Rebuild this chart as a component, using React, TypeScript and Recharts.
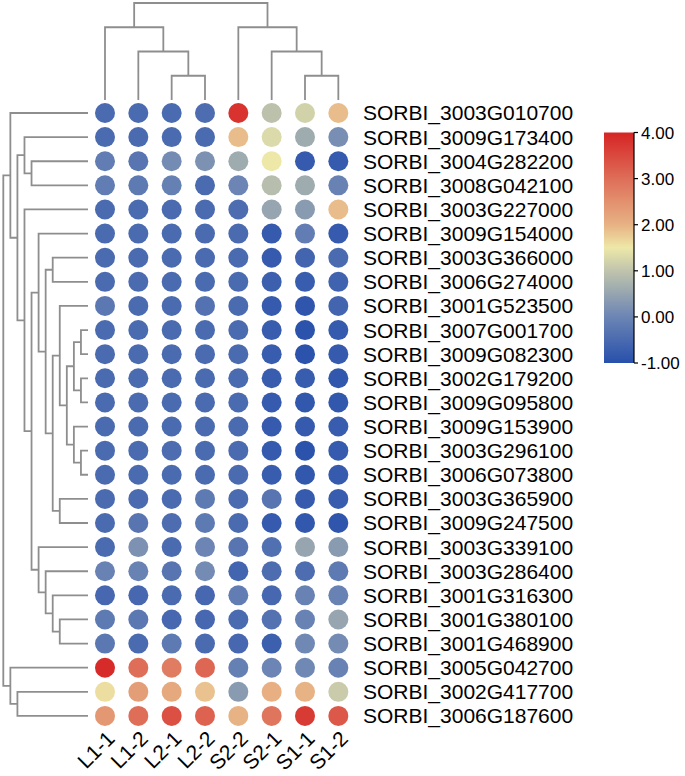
import React from 'react';
import { ScatterChart, Scatter, XAxis, YAxis, BarChart, Bar } from 'recharts';

// ---------- data ----------
const samples = ['L1-1', 'L1-2', 'L2-1', 'L2-2', 'S2-2', 'S2-1', 'S1-1', 'S1-2'];

const genes = [
  'SORBI_3003G010700', 'SORBI_3009G173400', 'SORBI_3004G282200', 'SORBI_3008G042100',
  'SORBI_3003G227000', 'SORBI_3009G154000', 'SORBI_3003G366000', 'SORBI_3006G274000',
  'SORBI_3001G523500', 'SORBI_3007G001700', 'SORBI_3009G082300', 'SORBI_3002G179200',
  'SORBI_3009G095800', 'SORBI_3009G153900', 'SORBI_3003G296100', 'SORBI_3006G073800',
  'SORBI_3003G365900', 'SORBI_3009G247500', 'SORBI_3003G339100', 'SORBI_3003G286400',
  'SORBI_3001G316300', 'SORBI_3001G380100', 'SORBI_3001G468900', 'SORBI_3005G042700',
  'SORBI_3002G417700', 'SORBI_3006G187600',
];

const L1_1 = [-0.5, -0.5, -0.15, -0.15, -0.5, -0.5, -0.5, -0.5, -0.25, -0.5, -0.5, -0.5, -0.5, -0.5, -0.5, -0.5, -0.5, -0.5, -0.5, -0.05, -0.55, -0.2, -0.25, 3.9, 1.6, 2.4];
const L1_2 = [-0.5, -0.5, -0.3, -0.2, -0.5, -0.5, -0.5, -0.5, -0.5, -0.5, -0.5, -0.5, -0.5, -0.5, -0.5, -0.5, -0.5, -0.3, 0.2, -0.05, -0.55, -0.25, -0.5, 3.0, 2.3, 3.0];
const L2_1 = [-0.5, -0.5, 0.1, -0.1, -0.5, -0.5, -0.5, -0.5, -0.5, -0.5, -0.5, -0.5, -0.5, -0.5, -0.45, -0.5, -0.5, -0.45, -0.5, -0.3, -0.5, -0.55, -0.2, 2.8, 2.15, 3.4];
const L2_2 = [-0.45, -0.5, 0.2, -0.5, -0.5, -0.5, -0.5, -0.5, -0.35, -0.5, -0.5, -0.5, -0.5, -0.5, -0.5, -0.5, -0.2, -0.2, 0.0, 0.1, -0.55, -0.55, -0.5, 3.1, 1.85, 3.15];
const S2_2 = [3.8, 1.9, 0.6, 0.0, -0.45, -0.5, -0.5, -0.5, -0.5, -0.5, -0.5, -0.5, -0.5, -0.5, -0.5, -0.5, -0.5, -0.5, -0.3, -0.6, -0.15, -0.5, -0.55, -0.1, 0.35, 2.0];
const S2_1 = [0.95, 1.3, 1.5, 0.9, 0.5, -0.8, -0.8, -0.7, -0.8, -0.75, -0.75, -0.75, -0.8, -0.8, -0.8, -0.75, -0.3, -0.8, -0.4, -0.45, -0.55, -0.35, -0.7, 0.0, 2.05, 2.9];
const S1_1 = [1.2, 0.6, -0.8, 0.6, 0.35, -0.15, -0.6, -0.75, -0.9, -0.95, -0.95, -0.75, -0.85, -0.8, -0.95, -0.85, -0.8, -0.85, 0.5, -0.45, -0.05, -0.05, 0.05, 0.05, 2.0, 3.7];
const S1_2 = [1.9, 0.15, -0.8, -0.05, 1.9, -0.8, -0.5, -0.65, -0.6, -0.8, -0.8, -0.85, -0.85, -0.75, -0.8, -0.8, -0.75, -0.9, 0.35, -0.2, -0.05, 0.5, 0.1, -0.05, 1.1, 3.3];

const sampleValues = [L1_1, L1_2, L2_1, L2_2, S2_2, S2_1, S1_1, S1_2];

// dendrogram merges: [childA, childB, height]; leaves 0..N-1, merged nodes N+k
const rowMerges: [number, number, number][] = [
  [9, 10, 1], [11, 12, 1], [14, 15, 1], [26, 27, 2], [13, 28, 2], [29, 30, 3],
  [8, 31, 4], [16, 17, 4], [32, 33, 5], [6, 7, 5], [35, 34, 6], [5, 36, 7],
  [21, 22, 4], [20, 38, 5], [19, 39, 6], [18, 40, 7], [37, 41, 8], [4, 42, 9],
  [2, 3, 8], [1, 44, 9], [45, 43, 10], [0, 46, 11], [24, 25, 10], [23, 48, 11],
  [47, 49, 12],
];
const colMerges: [number, number, number][] = [
  [2, 3, 1], [6, 7, 1], [1, 8, 2], [5, 9, 2], [0, 10, 3], [4, 11, 3], [12, 13, 4],
];

const scaleTicks = [-1, 0, 1, 2, 3, 4];
const colorStops: [number, [number, number, number]][] = [
  [-1, [40, 80, 172]],
  [0, [108, 133, 180]],
  [1, [192, 196, 172]],
  [1.5, [237, 232, 168]],
  [2, [231, 178, 132]],
  [3, [222, 110, 88]],
  [4, [214, 36, 36]],
];

// ---------- helpers ----------
function colorOf(v: number) {
  if (v <= colorStops[0][0]) return `rgb(${colorStops[0][1].join(',')})`;
  for (let i = 1; i < colorStops.length; i++) {
    const [v1, c1] = colorStops[i];
    const [v0, c0] = colorStops[i - 1];
    if (v <= v1) {
      const t = (v - v0) / (v1 - v0);
      const c = c0.map((a, k) => Math.round(a + (c1[k] - a) * t));
      return `rgb(${c.join(',')})`;
    }
  }
  return `rgb(${colorStops[colorStops.length - 1][1].join(',')})`;
}

function buildLinks(n: number, merges: [number, number, number][]) {
  const pos: number[] = [];
  const hgt: number[] = [];
  for (let i = 0; i < n; i++) { pos[i] = i; hgt[i] = 0; }
  return merges.map(([a, b, h], k) => {
    const id = n + k;
    pos[id] = (pos[a] + pos[b]) / 2;
    hgt[id] = h;
    return [
      { p: pos[a], h: hgt[a] },
      { p: pos[a], h },
      { p: pos[b], h },
      { p: pos[b], h: hgt[b] },
    ];
  });
}

const rowLinks = buildLinks(genes.length, rowMerges).map((l) => l.map((q) => ({ x: q.h, y: q.p })));
const colLinks = buildLinks(samples.length, colMerges).map((l) => l.map((q) => ({ x: q.p, y: q.h })));

const cells: { x: number; y: number; v: number }[] = [];
sampleValues.forEach((col, c) => col.forEach((v, r) => cells.push({ x: c, y: r, v })));

const FONT = 'Liberation Sans, Arial, sans-serif';
const W = 685;
const H = 776;
const LINE = '#8e8e8e';

const noShape = () => <g />;

const SampleTick = (props: any) => {
  const { x, y, payload } = props;
  const ax = x + 11;
  const ay = y + 12;
  return (
    <text x={ax} y={ay} transform={`rotate(-45, ${ax}, ${ay})`} textAnchor="end" fontSize={21} fontFamily={FONT} fill="#000">
      {samples[payload.value]}
    </text>
  );
};

const abs: React.CSSProperties = { position: 'absolute', left: 0, top: 0 };

// gradient stops ordered from top (max) to bottom (min)
const gradStops = [...colorStops].reverse();

export default function App() {
  const plotTop = 100.94;
  const plotBottom = 728;
  const plotLeft = 88.33;
  const plotRight = 355;
  return (
    <div style={{ position: 'absolute', left: 0, top: 0, width: W, height: H, background: '#fff' }}>
      <svg width={1} height={1} style={{ position: 'absolute', left: 0, top: 0 }}>
        <defs>
          <linearGradient id="cbGrad" x1="0" y1="0" x2="0" y2="1">
            {gradStops.map(([v, c]) => (
              <stop key={v} offset={`${((4 - v) / 5) * 100}%`} stopColor={`rgb(${c.join(',')})`} />
            ))}
          </linearGradient>
        </defs>
      </svg>

      {/* column dendrogram */}
      <div style={abs}>
        <ScatterChart width={W} height={H} margin={{ top: 3, bottom: H - 100, left: plotLeft, right: W - plotRight }}>
          <XAxis type="number" dataKey="x" domain={[-0.5, 7.5]} hide />
          <YAxis type="number" dataKey="y" domain={[0, 4]} hide />
          {colLinks.map((pts, i) => (
            <Scatter key={i} data={pts} fill={LINE} line={{ stroke: LINE, strokeWidth: 1.8 }} shape={noShape} isAnimationActive={false} />
          ))}
        </ScatterChart>
      </div>

      {/* row dendrogram */}
      <div style={abs}>
        <ScatterChart width={W} height={H} margin={{ top: plotTop, bottom: H - plotBottom, left: 3.3, right: W - 88 }}>
          <XAxis type="number" dataKey="x" domain={[0, 12]} reversed hide />
          <YAxis type="number" dataKey="y" domain={[-0.5, 25.5]} reversed hide />
          {rowLinks.map((pts, i) => (
            <Scatter key={i} data={pts} fill={LINE} line={{ stroke: LINE, strokeWidth: 1.8 }} shape={noShape} isAnimationActive={false} />
          ))}
        </ScatterChart>
      </div>

      {/* heatmap */}
      <div style={abs}>
        <ScatterChart width={W} height={H} margin={{ top: plotTop, bottom: 0, left: plotLeft, right: 0 }}>
          <XAxis
            type="number"
            dataKey="x"
            domain={[-0.5, 7.5]}
            ticks={[0, 1, 2, 3, 4, 5, 6, 7]}
            interval={0}
            axisLine={false}
            tickLine={false}
            tickSize={0}
            tickMargin={0}
            height={H - plotBottom}
            tick={<SampleTick />}
          />
          <YAxis
            type="number"
            dataKey="y"
            orientation="right"
            domain={[-0.5, 25.5]}
            reversed
            ticks={genes.map((_, i) => i)}
            interval={0}
            axisLine={false}
            tickLine={false}
            tickSize={0}
            tickMargin={8}
            width={W - plotRight}
            tickFormatter={(v: number) => genes[v]}
            tick={{ fontSize: 21, fill: '#000', fontFamily: FONT }}
          />
          <Scatter
            data={cells}
            isAnimationActive={false}
            shape={(p: any) => <circle cx={p.cx} cy={p.cy} r={10} fill={colorOf(p.payload.v)} />}
          />
        </ScatterChart>
      </div>

      {/* colour bar */}
      <div style={abs}>
        <BarChart
          width={W}
          height={H}
          data={[{ name: 'scale', range: [-1, 4] }]}
          margin={{ top: 132.5, bottom: H - 363, left: 604, right: 0 }}
          barCategoryGap={0}
        >
          <XAxis dataKey="name" hide />
          <YAxis
            orientation="right"
            type="number"
            domain={[-1, 4]}
            ticks={scaleTicks}
            interval={0}
            width={W - 634}
            axisLine={{ stroke: '#000', strokeWidth: 1.2 }}
            tickLine={{ stroke: '#000', strokeWidth: 1.2 }}
            tickSize={4}
            tickMargin={3}
            tickFormatter={(v: number) => v.toFixed(2)}
            tick={{ fontSize: 17, fill: '#000', fontFamily: FONT }}
          />
          <Bar dataKey="range" fill="url(#cbGrad)" isAnimationActive={false} />
        </BarChart>
      </div>
    </div>
  );
}
